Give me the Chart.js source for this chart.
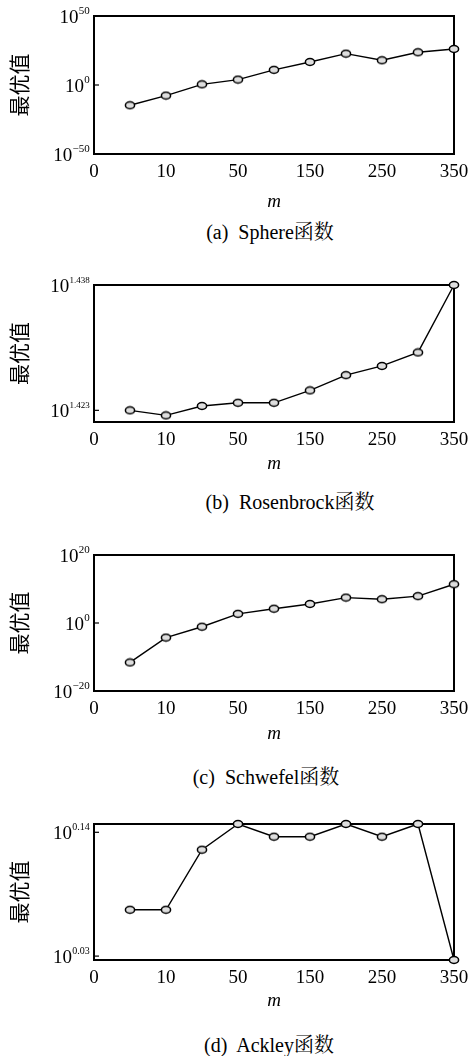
<!DOCTYPE html>
<html><head><meta charset="utf-8">
<script src="https://cdn.jsdelivr.net/npm/chart.js@4.4.1/dist/chart.umd.min.js"></script>
<style>
html,body{margin:0;padding:0;background:#fff}
body{width:469px;height:1056px;position:relative;overflow:hidden}
canvas{position:absolute;left:0}
.cap{position:absolute;font-size:20px;font-family:"Liberation Serif","Noto Serif CJK SC","Noto Sans CJK SC",serif;white-space:pre;line-height:20px;color:#000;transform:translateX(-50%)}
</style></head><body>
<canvas id="c0"></canvas><canvas id="c1"></canvas><canvas id="c2"></canvas><canvas id="c3"></canvas>
<div class="cap" id="cap0"></div><div class="cap" id="cap1"></div><div class="cap" id="cap2"></div><div class="cap" id="cap3"></div>
<script>
// x-axis category tick labels (only every other position is labelled)
const xLabels = ['0', '', '10', '', '50', '', '150', '', '250', '', '350'];

// series values (optimal value per m)
const sphereValues     = [2e-15, 2e-8, 3e0, 8e3, 1e11, 5e16, 5e22, 8e17, 5e23, 1.3e26];
const rosenbrockValues = [26.485, 26.448, 26.517, 26.540, 26.540, 26.631, 26.743, 26.811, 26.911, 27.416];
const schwefelValues   = [2.5e-12, 5e-5, 8e-2, 5e2, 1.6e4, 4e5, 3e7, 1e7, 8e7, 2.5e11];
const ackleyValues     = [1.178, 1.178, 1.332, 1.404, 1.368, 1.368, 1.404, 1.368, 1.404, 1.063];

// y tick exponents (labels are 10^exp)
const sphereTickExps     = [-50, 0, 50];
const rosenbrockTickExps = [1.423, 1.438];
const schwefelTickExps   = [-20, 0, 20];
const ackleyTickExps     = [0.03, 0.14];

// y axis ranges (null = fit to data)
const sphereRange     = [1e-50, 1e50];
const rosenbrockRange = [null, null];
const schwefelRange   = [1e-20, 1e20];
const ackleyRange     = [null, null];

const captions = ['(a)  Sphere函数', '(b)  Rosenbrock函数', '(c)  Schwefel函数', '(d)  Ackley函数'];
const yTitle = '最优值';
const xTitle = 'm';

const panels = [
  {values: sphereValues, exps: sphereTickExps, range: sphereRange, canvasTop: 0, boxTop: 16, boxBottom: 154, mOff: 48.5, sup: 11, capX: 270, capY: 231.5},
  {values: rosenbrockValues, exps: rosenbrockTickExps, range: rosenbrockRange, canvasTop: 262, boxTop: 23, boxBottom: 160, mOff: 43, sup: 9, capX: 290, capY: 502},
  {values: schwefelValues, exps: schwefelTickExps, range: schwefelRange, canvasTop: 530, boxTop: 25, boxBottom: 161, mOff: 44, sup: 11, capX: 266, capY: 777},
  {values: ackleyValues, exps: ackleyTickExps, range: ackleyRange, canvasTop: 800, boxTop: 24, boxBottom: 160, mOff: 42, sup: 10, capX: 269, capY: 1045}
];

function makeMarker() {
  const c = document.createElement('canvas');
  c.width = 12; c.height = 10;
  const g = c.getContext('2d');
  g.beginPath();
  g.ellipse(6, 5, 4.6, 3.4, 0, 0, 2 * Math.PI);
  g.fillStyle = '#dedede';
  g.fill();
  g.lineWidth = 1.5;
  g.strokeStyle = '#000';
  g.stroke();
  return c;
}
const marker = makeMarker();

const SERIF = '"Liberation Serif", "Times New Roman", serif';

const framePlugin = {
  id: 'frame',
  beforeDatasetsDraw(chart) {
    const a = chart.chartArea, ctx = chart.ctx;
    ctx.save();
    ctx.strokeStyle = '#000';
    ctx.lineWidth = 2;
    ctx.strokeRect(a.left, a.top, a.right - a.left, a.bottom - a.top);
    // inward y tick marks
    const ys = chart.scales.y;
    ctx.lineWidth = 1.2;
    ys.ticks.forEach(t => {
      const y = ys.getPixelForValue(t.value);
      ctx.beginPath(); ctx.moveTo(a.left, y); ctx.lineTo(a.left + 5, y); ctx.stroke();
    });
    ctx.restore();
  },
  afterDraw(chart) {
    const a = chart.chartArea, ctx = chart.ctx;
    const p = chart.options.plugins.frame;
    ctx.save();
    ctx.fillStyle = '#000';
    // x tick labels
    const xs = chart.scales.x;
    ctx.font = '19px ' + SERIF;
    ctx.textAlign = 'center';
    ctx.textBaseline = 'alphabetic';
    xLabels.forEach((lab, i) => {
      if (!lab) return;
      ctx.fillText(lab, xs.getPixelForValue(i), a.bottom + 22.8);
    });
    // y tick labels 10^exp
    const ys = chart.scales.y;
    ctx.textAlign = 'left';
    p.exps.forEach(e => {
      const y = ys.getPixelForValue(Math.pow(10, e));
      const supTxt = String(e).replace('-', '\u2212');
      ctx.font = p.sup + 'px ' + SERIF;
      const wSup = ctx.measureText(supTxt).width;
      ctx.font = '19px ' + SERIF;
      const w10 = ctx.measureText('10').width;
      const x10 = a.left - 4.5 - wSup - w10;
      ctx.fillText('10', x10, y + 6.5);
      ctx.font = p.sup + 'px ' + SERIF;
      ctx.fillText(supTxt, x10 + w10 + 0.3, y - 2.5);
    });
    ctx.restore();
  }
};

panels.forEach((p, idx) => {
  const H = p.boxBottom + 62;
  const cv = document.getElementById('c' + idx);
  cv.width = 469; cv.height = H;
  cv.style.width = '469px'; cv.style.height = H + 'px';
  cv.style.top = p.canvasTop + 'px';
  const dataMin = Math.min(...p.values), dataMax = Math.max(...p.values);
  const yMin = p.range[0] === null ? dataMin : p.range[0];
  const yMax = p.range[1] === null ? dataMax : p.range[1];
  new Chart(cv, {
    type: 'line',
    data: {
      labels: xLabels,
      datasets: [{
        data: [null, ...p.values],
        borderColor: '#000',
        borderWidth: 1.4,
        pointStyle: marker,
        pointRadius: 5,
        tension: 0,
        clip: false,
        fill: false
      }]
    },
    options: {
      responsive: false,
      animation: false,
      devicePixelRatio: 1,
      layout: {padding: {top: p.boxTop, right: 15, bottom: 0, left: 0}},
      plugins: {
        legend: {display: false},
        tooltip: {enabled: false},
        frame: {exps: p.exps, sup: p.sup}
      },
      scales: {
        x: {
          type: 'category',
          offset: false,
          grid: {display: false, drawTicks: false},
          border: {display: false},
          ticks: {display: false},
          title: {display: true, text: xTitle, color: '#000',
                  font: {family: SERIF, size: 19, style: 'italic'},
                  padding: {top: 0, bottom: 51.6 - p.mOff}},
          afterFit(s) { s.height = H - p.boxBottom; }
        },
        y: {
          type: 'logarithmic',
          min: yMin, max: yMax,
          grid: {display: false, drawTicks: false},
          border: {display: false},
          ticks: {display: false},
          afterBuildTicks(s) { s.ticks = p.exps.map(e => ({value: Math.pow(10, e)})); },
          title: {display: true, text: yTitle, color: '#000',
                  font: {family: '"Noto Sans CJK SC", sans-serif', size: 21},
                  padding: {top: 6, bottom: 0}},
          afterFit(s) { s.width = 94; }
        }
      }
    },
    plugins: [framePlugin]
  });
  const cap = document.getElementById('cap' + idx);
  cap.textContent = captions[idx];
  cap.style.left = p.capX + 'px';
  cap.style.top = (p.capY - 10) + 'px';
});
</script>
</body></html>
